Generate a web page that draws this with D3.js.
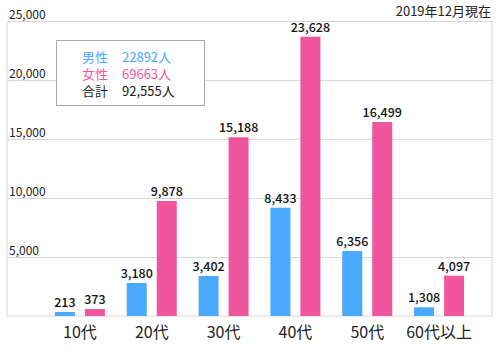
<!DOCTYPE html>
<html><head><meta charset="utf-8">
<script src="https://cdn.jsdelivr.net/npm/d3@7"></script>
<style>
html,body{margin:0;padding:0;background:#fff;}
text{font-family:"Noto Sans CJK JP","Noto Sans",sans-serif;}
</style></head>
<body>
<svg id="c" width="500" height="360"></svg>
<script>
// ---- data ----
const categories = ["10代","20代","30代","40代","50代","60代以上"];
const series = ["男性","女性"];
// bar heights as drawn in the reference
const maleValues   = [339, 2797, 3390, 9178, 5508, 737];
const femaleValues = [593, 9746, 15144, 23670, 16441, 3415];
// value labels as printed
const maleLabels   = ["213","3,180","3,402","8,433","6,356","1,308"];
const femaleLabels = ["373","9,878","15,188","23,628","16,499","4,097"];
const yTicks = [5000, 10000, 15000, 20000, 25000];
const legendNames  = ["男性","女性","合計"];
const legendValues = ["22892人","69663人","92,555人"];
const title = "2019年12月現在";

const colors = {"男性":"#4aa8ff","女性":"#f0569e"};
const legendColors = ["#4aa8ff","#f0569e","#222"];

const svg = d3.select("#c");
const pL = 7, pR = 492, pT = 21, pB = 316;

const y = d3.scaleLinear().domain([0, 25000]).range([pB, pT]);
const x0 = d3.scaleBand().domain(categories).range([44, 475]).padding(0);
const x1 = d3.scaleBand().domain(series).range([-25, 25]).paddingInner(1/3).paddingOuter(0);

// gridlines + tick labels via axis
const ax = svg.append("g").attr("transform", `translate(${pL},0)`)
  .call(d3.axisRight(y).tickValues(yTicks).tickSize(pR - pL).tickFormat(d3.format(",")));
ax.select(".domain").remove();
ax.selectAll(".tick line").attr("stroke", "#d6d6d6").attr("stroke-width", 1);
ax.selectAll(".tick text").attr("x", 2).attr("dy", -3).attr("text-anchor", "start")
  .attr("fill", "#222").style("font-size", "12px");

// frame
svg.append("line").attr("x1", pL).attr("x2", pL).attr("y1", pT).attr("y2", pB).attr("stroke", "#d6d6d6");
svg.append("line").attr("x1", pR).attr("x2", pR).attr("y1", pT).attr("y2", pB).attr("stroke", "#d6d6d6");
svg.append("line").attr("x1", pL).attr("x2", pR).attr("y1", y(0)).attr("y2", y(0)).attr("stroke", "#d6d6d6");

const rows = categories.map((c, i) => ({
  cat: c,
  items: [
    {s: "男性", v: maleValues[i], label: maleLabels[i]},
    {s: "女性", v: femaleValues[i], label: femaleLabels[i]}
  ]
}));

const g = svg.selectAll("g.cat").data(rows).join("g").attr("class", "cat")
  .attr("transform", d => `translate(${x0(d.cat) + x0.bandwidth()/2},0)`);

g.selectAll("rect").data(d => d.items).join("rect")
  .attr("x", d => x1(d.s)).attr("width", x1.bandwidth())
  .attr("y", d => y(d.v)).attr("height", d => y(0) - y(d.v))
  .attr("fill", d => colors[d.s]);

g.selectAll("text.val").data(d => d.items).join("text").attr("class", "val")
  .attr("x", d => x1(d.s) + x1.bandwidth()/2).attr("y", d => y(d.v) - 5)
  .attr("text-anchor", "middle").attr("fill", "#111")
  .style("font-size", "12.5px").style("font-weight", 500)
  .text(d => d.label);

g.append("text").attr("x", 0).attr("y", 338).attr("text-anchor", "middle")
  .attr("fill", "#222").style("font-size", "16px").text(d => d.cat);

// title
svg.append("text").attr("x", 491).attr("y", 16).attr("text-anchor", "end")
  .attr("fill", "#222").style("font-size", "13px").text(title);

// legend box
svg.append("rect").attr("x", 56.5).attr("y", 40.5).attr("width", 148).attr("height", 65)
  .attr("fill", "#fff").attr("stroke", "#aaa");
legendNames.forEach((n, i) => {
  svg.append("text").attr("x", 82).attr("y", 62 + i*17).attr("fill", legendColors[i])
    .style("font-size", "13px").text(n);
  svg.append("text").attr("x", 122).attr("y", 62 + i*17).attr("fill", legendColors[i])
    .style("font-size", "13px").text(legendValues[i]);
});
</script>
</body></html>
